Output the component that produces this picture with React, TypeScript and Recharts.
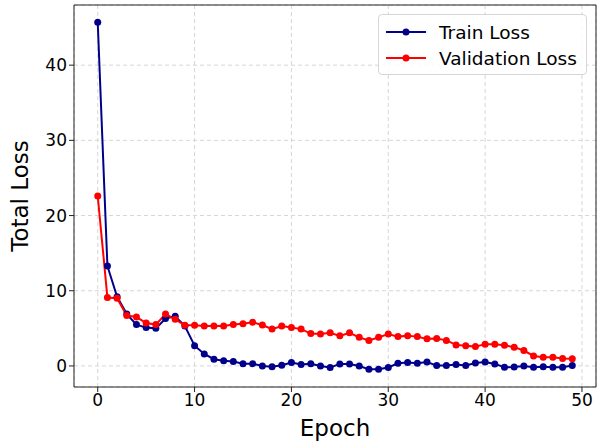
import React from 'react'
import { Line, LineChart, CartesianGrid, XAxis, YAxis, ReferenceLine } from 'recharts'

const epochs = Array.from({ length: 50 }, (_, i) => i)

const trainLoss = [
  45.7, 13.3, 9.2, 6.9, 5.5, 5.1, 5.0, 6.3, 6.6, 5.3,
  2.7, 1.6, 0.9, 0.7, 0.6, 0.3, 0.3, 0.0, -0.1, 0.1,
  0.45, 0.2, 0.3, 0.0, -0.2, 0.27, 0.25, 0.0, -0.45, -0.45,
  -0.2, 0.35, 0.45, 0.35, 0.53, 0.05, 0.05, 0.18, 0.05, 0.4,
  0.53, 0.27, -0.18, -0.15, 0.0, -0.18, -0.1, -0.18, -0.18, 0.05,
]

const valLoss = [
  22.6, 9.1, 9.0, 6.7, 6.5, 5.7, 5.5, 6.9, 6.2, 5.4,
  5.4, 5.3, 5.3, 5.3, 5.5, 5.6, 5.8, 5.45, 4.9, 5.3,
  5.1, 4.9, 4.3, 4.25, 4.4, 4.0, 4.4, 3.8, 3.4, 3.8,
  4.25, 3.9, 4.0, 3.9, 3.6, 3.65, 3.4, 2.8, 2.7, 2.57,
  2.9, 2.9, 2.75, 2.5, 2.05, 1.33, 1.15, 1.15, 1.0, 0.97,
]

const xTicks = [0, 10, 20, 30, 40, 50]
const yTicks = [0, 10, 20, 30, 40]

const data = epochs.map((e, i) => ({ epoch: e, train: trainLoss[i], val: valLoss[i] }))

const FONT = '"DejaVu Sans", sans-serif'

function LossLegend() {
  const items = [
    { name: 'Train Loss', color: '#00008B' },
    { name: 'Validation Loss', color: '#FF0000' },
  ]
  return (
    <div
      style={{
        position: 'absolute',
        left: 378,
        top: 14,
        width: 209,
        height: 61,
        boxSizing: 'border-box',
        border: '1px solid #d6d6d6',
        borderRadius: 4,
        background: 'rgba(255,255,255,0.85)',
        padding: '4px 0 0 6px',
        fontFamily: FONT,
        fontSize: 18.5,
        color: '#000',
      }}
    >
      {items.map((it) => (
        <div key={it.name} style={{ display: 'flex', alignItems: 'center', height: 26 }}>
          <svg width={42} height={10} style={{ marginRight: 12 }}>
            <line x1={1} y1={5} x2={41} y2={5} stroke={it.color} strokeWidth={2} />
            <circle cx={21} cy={5} r={3.5} fill={it.color} />
          </svg>
          <span>{it.name}</span>
        </div>
      ))}
    </div>
  )
}

export default function App() {
  return (
    <div style={{ position: 'absolute', left: 0, top: 0, width: 607, height: 445, background: '#fff' }}>
      <LineChart width={607} height={445} data={data} margin={{ top: 5, right: 11, left: 0, bottom: 0 }}>
        <CartesianGrid stroke="#d6d6d6" strokeDasharray="4 3" />
        <XAxis
          dataKey="epoch"
          type="number"
          domain={[-2.45, 51.45]}
          ticks={xTicks}
          allowDataOverflow
          height={58}
          stroke="#222"
          tickSize={5}
          tick={{ fill: '#000', fontSize: 17, fontFamily: FONT }}
          label={{ value: 'Epoch', position: 'insideBottom', offset: 9, fill: '#000', fontSize: 23, fontFamily: FONT }}
        />
        <YAxis
          type="number"
          domain={[-2.8, 48.0]}
          ticks={yTicks}
          allowDataOverflow
          width={74}
          stroke="#222"
          tickSize={5}
          tick={{ fill: '#000', fontSize: 17, fontFamily: FONT }}
          label={{ value: 'Total Loss', angle: -90, position: 'insideLeft', offset: 20, style: { textAnchor: 'middle' }, fill: '#000', fontSize: 23, fontFamily: FONT }}
        />
        <ReferenceLine y={48.0} stroke="#222" />
        <ReferenceLine x={51.45} stroke="#222" />
        <Line
          type="linear"
          dataKey="train"
          name="Train Loss"
          stroke="#00008B"
          strokeWidth={2}
          dot={{ r: 3.5, fill: '#00008B', stroke: '#00008B', strokeWidth: 0 }}
          isAnimationActive={false}
        />
        <Line
          type="linear"
          dataKey="val"
          name="Validation Loss"
          stroke="#FF0000"
          strokeWidth={2}
          dot={{ r: 3.5, fill: '#FF0000', stroke: '#FF0000', strokeWidth: 0 }}
          isAnimationActive={false}
        />
      </LineChart>
      <LossLegend />
    </div>
  )
}
